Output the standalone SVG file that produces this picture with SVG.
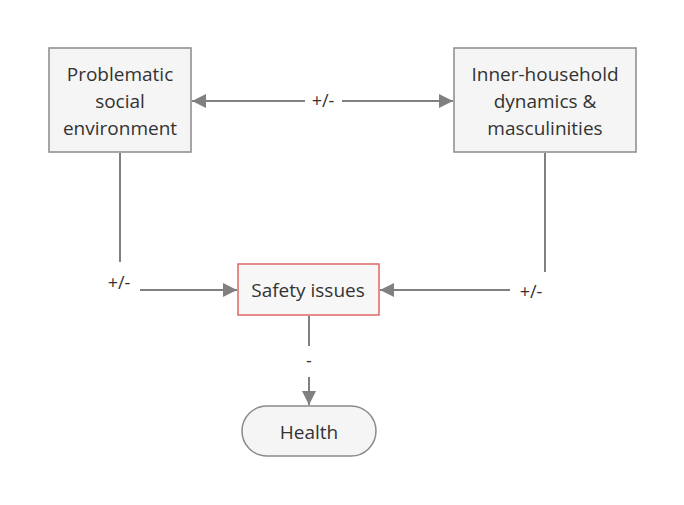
<svg xmlns="http://www.w3.org/2000/svg" width="684" height="505" viewBox="0 0 684 505">
<style>
.box{fill:#f5f5f5;stroke:#8a8a8a;stroke-width:1.5}
.red{fill:#f7f7f7;stroke:#e06666;stroke-width:1.5}
.t{font-family:"Open Sans","Noto Sans",sans-serif;font-size:19px;fill:#333;text-anchor:middle}
.l{font-family:"Open Sans","Noto Sans",sans-serif;font-size:18px;fill:#333;text-anchor:middle}
.c{fill:none;stroke:#808080;stroke-width:2}
</style>
<defs>
<marker id="ah" viewBox="0 0 10 10" refX="10" refY="5" markerWidth="7" markerHeight="7" orient="auto-start-reverse" markerUnits="strokeWidth"><path d="M0,0L10,5L0,10z" fill="#808080"/></marker>
</defs>
<rect width="684" height="505" fill="#fff"/>
<g id="connectors">
<path class="c" d="M192,101H305" marker-start="url(#ah)"/>
<path class="c" d="M342,101H453" marker-end="url(#ah)"/>
<text class="l" x="323" y="107">+/-</text>
<path class="c" d="M120,153V262"/>
<text class="l" x="119" y="289">+/-</text>
<path class="c" d="M140,290H237" marker-end="url(#ah)"/>
<path class="c" d="M545,153V272"/>
<text class="l" x="531" y="298">+/-</text>
<path class="c" d="M510,290H380" marker-end="url(#ah)"/>
<path class="c" d="M309,316V346"/>
<text class="l" x="309" y="367">-</text>
<path class="c" d="M309,377V405" marker-end="url(#ah)"/>
</g>
<g id="n1"><rect class="box" x="49" y="48" width="142" height="104"/>
<text class="t" x="120" y="81">Problematic</text><text class="t" x="120" y="108">social</text><text class="t" x="120" y="135">environment</text></g>
<g id="n2"><rect class="box" x="454" y="48" width="182" height="104"/>
<text class="t" x="545" y="81">Inner-household</text><text class="t" x="545" y="108">dynamics &amp;</text><text class="t" x="545" y="135">masculinities</text></g>
<g id="n3"><rect class="red" x="238" y="264" width="141" height="51"/>
<text class="t" x="308" y="297">Safety issues</text></g>
<g id="n4"><rect class="box" x="242" y="406" width="134" height="50" rx="25"/>
<text class="t" x="309" y="439">Health</text></g>
</svg>
